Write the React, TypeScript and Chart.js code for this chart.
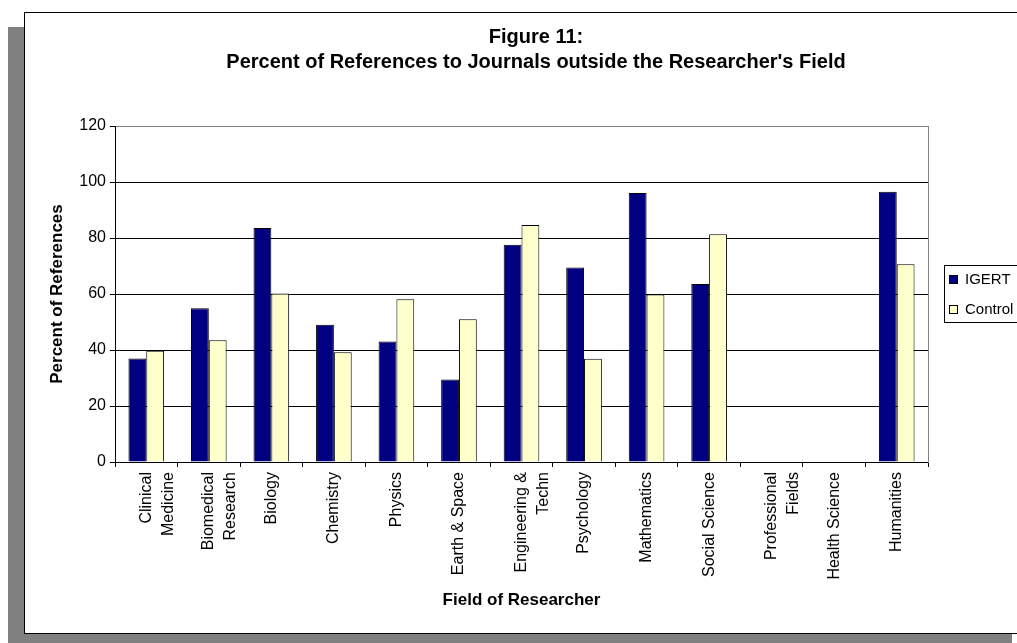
import React, { useEffect, useRef } from "react";
import { Chart, registerables } from "chart.js";

Chart.register(...registerables);

const categories: (string | string[])[] = [
  ["Clinical", "Medicine"],
  ["Biomedical", "Research"],
  "Biology",
  "Chemistry",
  "Physics",
  "Earth & Space",
  ["Engineering &", "Techn"],
  "Psychology",
  "Mathematics",
  "Social Science",
  ["Professional", "Fields"],
  "Health Science",
  "Humanities",
];

const igertValues = [37.0, 54.9, 83.6, 49.0, 43.0, 29.5, 77.6, 69.5, 96.1, 63.6, 0, 0, 96.5];
const controlValues = [39.7, 43.5, 60.2, 39.2, 58.1, 51.0, 84.6, 36.9, 59.8, 81.3, 0, 0, 70.6];

const titleLines = ["Figure 11:", "Percent of References to Journals outside the Researcher's Field"];
const xAxisTitle = "Field of Researcher";
const yAxisTitle = "Percent of References";
const seriesNames = ["IGERT", "Control"];
const seriesColors = ["#000080", "#FFFFCC"];

const FONT = "'Liberation Sans', Arial, Helvetica, sans-serif";

const boxLegend = {
  id: "boxLegend",
  afterDraw(chart: any) {
    const ctx = chart.ctx;
    const left = chart.chartArea.right + 16;
    const top = 253;
    ctx.save();
    ctx.fillStyle = "#ffffff";
    ctx.fillRect(left, top, 130, 57);
    ctx.strokeStyle = "#000000";
    ctx.lineWidth = 1;
    ctx.strokeRect(left + 0.5, top + 0.5, 130, 57);
    ctx.font = "15px " + FONT;
    ctx.textBaseline = "middle";
    chart.data.datasets.forEach((ds: any, i: number) => {
      const cy = top + 14 + i * 30;
      ctx.fillStyle = ds.backgroundColor;
      ctx.fillRect(left + 5, cy - 4, 9, 9);
      ctx.strokeStyle = "#000";
      ctx.strokeRect(left + 5.5, cy - 3.5, 8, 8);
      ctx.fillStyle = "#000";
      ctx.textAlign = "left";
      ctx.fillText(ds.label, left + 21, cy + 1);
    });
    ctx.restore();
  },
};

export default function App() {
  const ref = useRef<HTMLCanvasElement | null>(null);

  useEffect(() => {
    if (!ref.current) return;
    const chart = new Chart(ref.current, {
      type: "bar",
      data: {
        labels: categories,
        datasets: [
          {
            label: seriesNames[0],
            data: igertValues,
            backgroundColor: seriesColors[0],
            borderColor: "#000000",
            borderWidth: 1,
            categoryPercentage: 0.57,
            barPercentage: 1,
          },
          {
            label: seriesNames[1],
            data: controlValues,
            backgroundColor: seriesColors[1],
            borderColor: "#000000",
            borderWidth: 1,
            categoryPercentage: 0.57,
            barPercentage: 1,
          },
        ],
      },
      plugins: [boxLegend],
      options: {
        responsive: false,
        animation: false,
        devicePixelRatio: 1,
        layout: { padding: 0 },
        plugins: {
          legend: { display: false },
          tooltip: { enabled: false },
          title: {
            display: true,
            text: titleLines,
            color: "#000",
            font: { family: FONT, size: 20, weight: "bold", lineHeight: 1.25 },
            padding: { top: 12.5, bottom: 51.5 },
          },
        },
        scales: {
          x: {
            offset: true,
            grid: {
              display: true,
              drawOnChartArea: false,
              offset: true,
              tickLength: 5,
              color: "#000",
            },
            border: { display: true, color: "#000", width: 1 },
            ticks: {
              minRotation: 90,
              maxRotation: 90,
              autoSkip: false,
              color: "#000",
              padding: 5,
              font: { family: FONT, size: 16, lineHeight: "22px" },
            },
            title: {
              display: true,
              text: xAxisTitle,
              color: "#000",
              font: { family: FONT, size: 17, weight: "bold", lineHeight: 1.2 },
              padding: { top: 0, bottom: 22.8 },
            },
            afterFit: (s: any) => {
              s.height = 171;
            },
          },
          y: {
            min: 0,
            max: 120,
            ticks: {
              stepSize: 20,
              color: "#000",
              padding: 4,
              font: { family: FONT, size: 16 },
            },
            grid: {
              color: (c: any) => (c.tick && c.tick.value === 120 ? "#808080" : "#000"),
              tickLength: 5,
              tickColor: "#000",
            },
            border: { display: true, color: "#000", width: 1 },
            title: {
              display: true,
              text: yAxisTitle,
              color: "#000",
              font: { family: FONT, size: 17, weight: "bold", lineHeight: 1.2 },
              padding: { top: 23, bottom: 0 },
            },
            afterFit: (s: any) => {
              s.width = 91;
            },
          },
          yRight: {
            type: "linear",
            position: "right",
            display: true,
            grid: { display: false },
            ticks: { display: false },
            border: { display: true, color: "#808080", width: 1 },
            afterFit: (s: any) => {
              s.width = 120;
            },
          },
        },
      } as any,
    });
    return () => chart.destroy();
  }, []);

  return (
    <div
      style={{
        position: "fixed",
        left: 0,
        top: 0,
        width: 1017,
        height: 643,
        overflow: "hidden",
        background: "#ffffff",
      }}
    >
      <div
        style={{
          position: "absolute",
          left: 8,
          top: 27,
          width: 1004,
          height: 616,
          background: "#808080",
        }}
      />
      <div
        style={{
          position: "absolute",
          left: 24,
          top: 12,
          width: 1010,
          height: 622,
          boxSizing: "border-box",
          border: "1px solid #000",
          background: "#ffffff",
        }}
      />
      <canvas
        ref={ref}
        width={1024}
        height={621}
        style={{ position: "absolute", left: 24, top: 12, width: 1024, height: 621 }}
      />
    </div>
  );
}
